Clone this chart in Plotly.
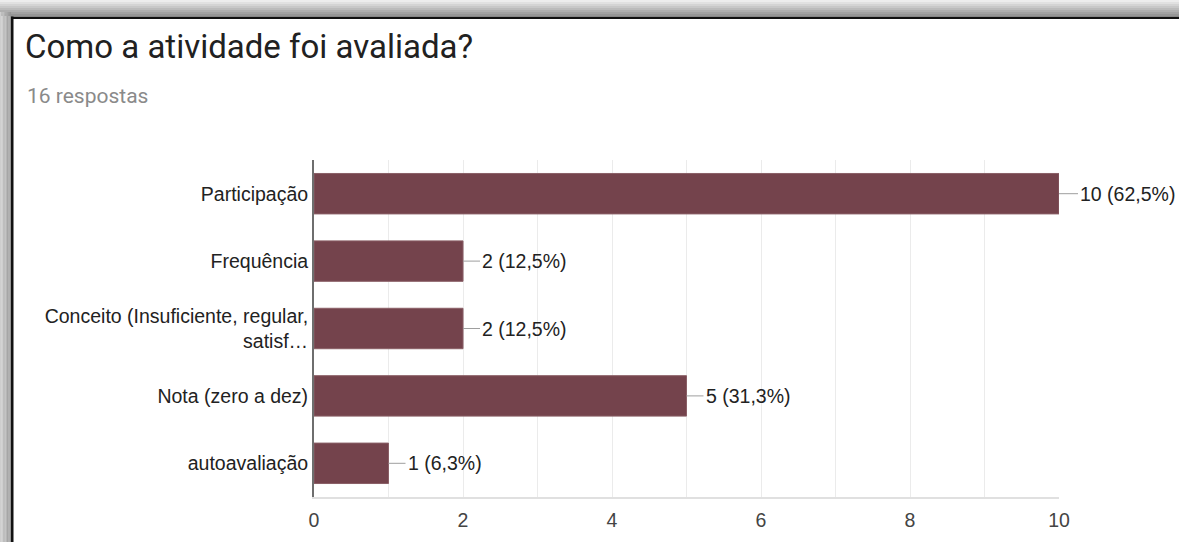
import plotly.graph_objects as go

categories = ["Participação", "Frequência", "Conceito (Insuficiente, regular,<br>satisf…",
              "Nota (zero a dez)", "autoavaliação"]
values = [10, 2, 2, 5, 1]
total_responses = 16
title_text = "Como a atividade foi avaliada?"
subtitle_text = f"{total_responses} respostas"
x_ticks = [0, 2, 4, 6, 8, 10]

W, H = 1179, 542
L, R, T, B = 314, 120, 160, 45
PW, PH = W - L - R, H - T - B
FONT = "Liberation Sans, Arial, sans-serif"
FS = 19.5


def px(x):
    return (x - L) / PW


def py(y):
    return (H - B - y) / PH


def pct_label(v):
    p = v * 100.0 / total_responses + 1e-9
    return f"{v} ({p:.1f}%)".replace(".", ",")


fig = go.Figure()
fig.add_trace(go.Bar(
    x=values, y=categories, orientation="h",
    marker=dict(color="#74434c", line=dict(color="#8a5f66", width=1)),
    hoverinfo="skip",
))

annotations = []
for c, v in zip(categories, values):
    annotations.append(dict(
        x=v, y=c, xref="x", yref="y", text=pct_label(v),
        showarrow=True, arrowhead=0, arrowwidth=1, arrowcolor="#9e9e9e",
        ax=17 if v < max(values) else 19, ay=0, xanchor="left", standoff=0,
        font=dict(family=FONT, size=FS, color="#222222"),
    ))

annotations.append(dict(
    x=px(25), y=py(96), xref="paper", yref="paper", text=subtitle_text,
    showarrow=False, xanchor="left", yanchor="middle",
    font=dict(family="Roboto, sans-serif", size=21, color="#8a8a8a"),
))

shapes = []
# decorative frame shadow (top & left) approximated with strips
n = 8
for i in range(n):
    g = int(250 - (250 - 150) * (i + 1) / n)
    col = f"rgb({g},{g},{g})"
    y0 = i * 16 / n
    y1 = (i + 1) * 16 / n
    shapes.append(dict(type="rect", xref="paper", yref="paper",
                       x0=px(0), x1=px(W), y0=py(y0), y1=py(y1),
                       fillcolor=col, line=dict(width=0), layer="above"))
for i in range(n):
    g = int(215 - (215 - 150) * (i + 1) / n)
    col = f"rgb({g},{g},{g})"
    x0 = i * 11 / n
    x1 = (i + 1) * 11 / n
    shapes.append(dict(type="rect", xref="paper", yref="paper",
                       x0=px(x0), x1=px(x1), y0=py(12), y1=py(H),
                       fillcolor=col, line=dict(width=0), layer="above"))
shapes.append(dict(type="rect", xref="paper", yref="paper",
                   x0=px(11), x1=px(W), y0=py(16.5), y1=py(19),
                   fillcolor="#111111", line=dict(width=0), layer="above"))
shapes.append(dict(type="rect", xref="paper", yref="paper",
                   x0=px(11), x1=px(13.5), y0=py(16.5), y1=py(H),
                   fillcolor="#111111", line=dict(width=0), layer="above"))

fig.update_layout(
    width=W, height=H,
    margin=dict(l=L, r=R, t=T, b=B, pad=0),
    paper_bgcolor="white", plot_bgcolor="white",
    bargap=0.4,
    showlegend=False,
    title=dict(text=title_text, xref="container", yref="container",
               x=25 / W, y=1 - 46 / H, xanchor="left", yanchor="middle",
               font=dict(family="Roboto, sans-serif", size=33, color="#212121")),
    annotations=annotations,
    shapes=shapes,
    xaxis=dict(
        range=[0, 10], tickvals=x_ticks, ticks="", showgrid=True,
        gridcolor="#ebebeb", gridwidth=1, zeroline=False,
        minor=dict(dtick=1, showgrid=True, gridcolor="#ebebeb", gridwidth=1),
        showline=True, linecolor="#e0e0e0", linewidth=2,
        tickfont=dict(family=FONT, size=FS, color="#444444"),
        ticklabelstandoff=5,
        fixedrange=True,
    ),
    yaxis=dict(
        categoryorder="array", categoryarray=categories, autorange="reversed",
        showgrid=False, showline=True, linecolor="#6e6e6e", linewidth=2,
        ticks="", ticklabelstandoff=0,
        tickfont=dict(family=FONT, size=FS, color="#222222"),
        fixedrange=True,
    ),
)

fig.write_html("out.html", config={"displayModeBar": False})
